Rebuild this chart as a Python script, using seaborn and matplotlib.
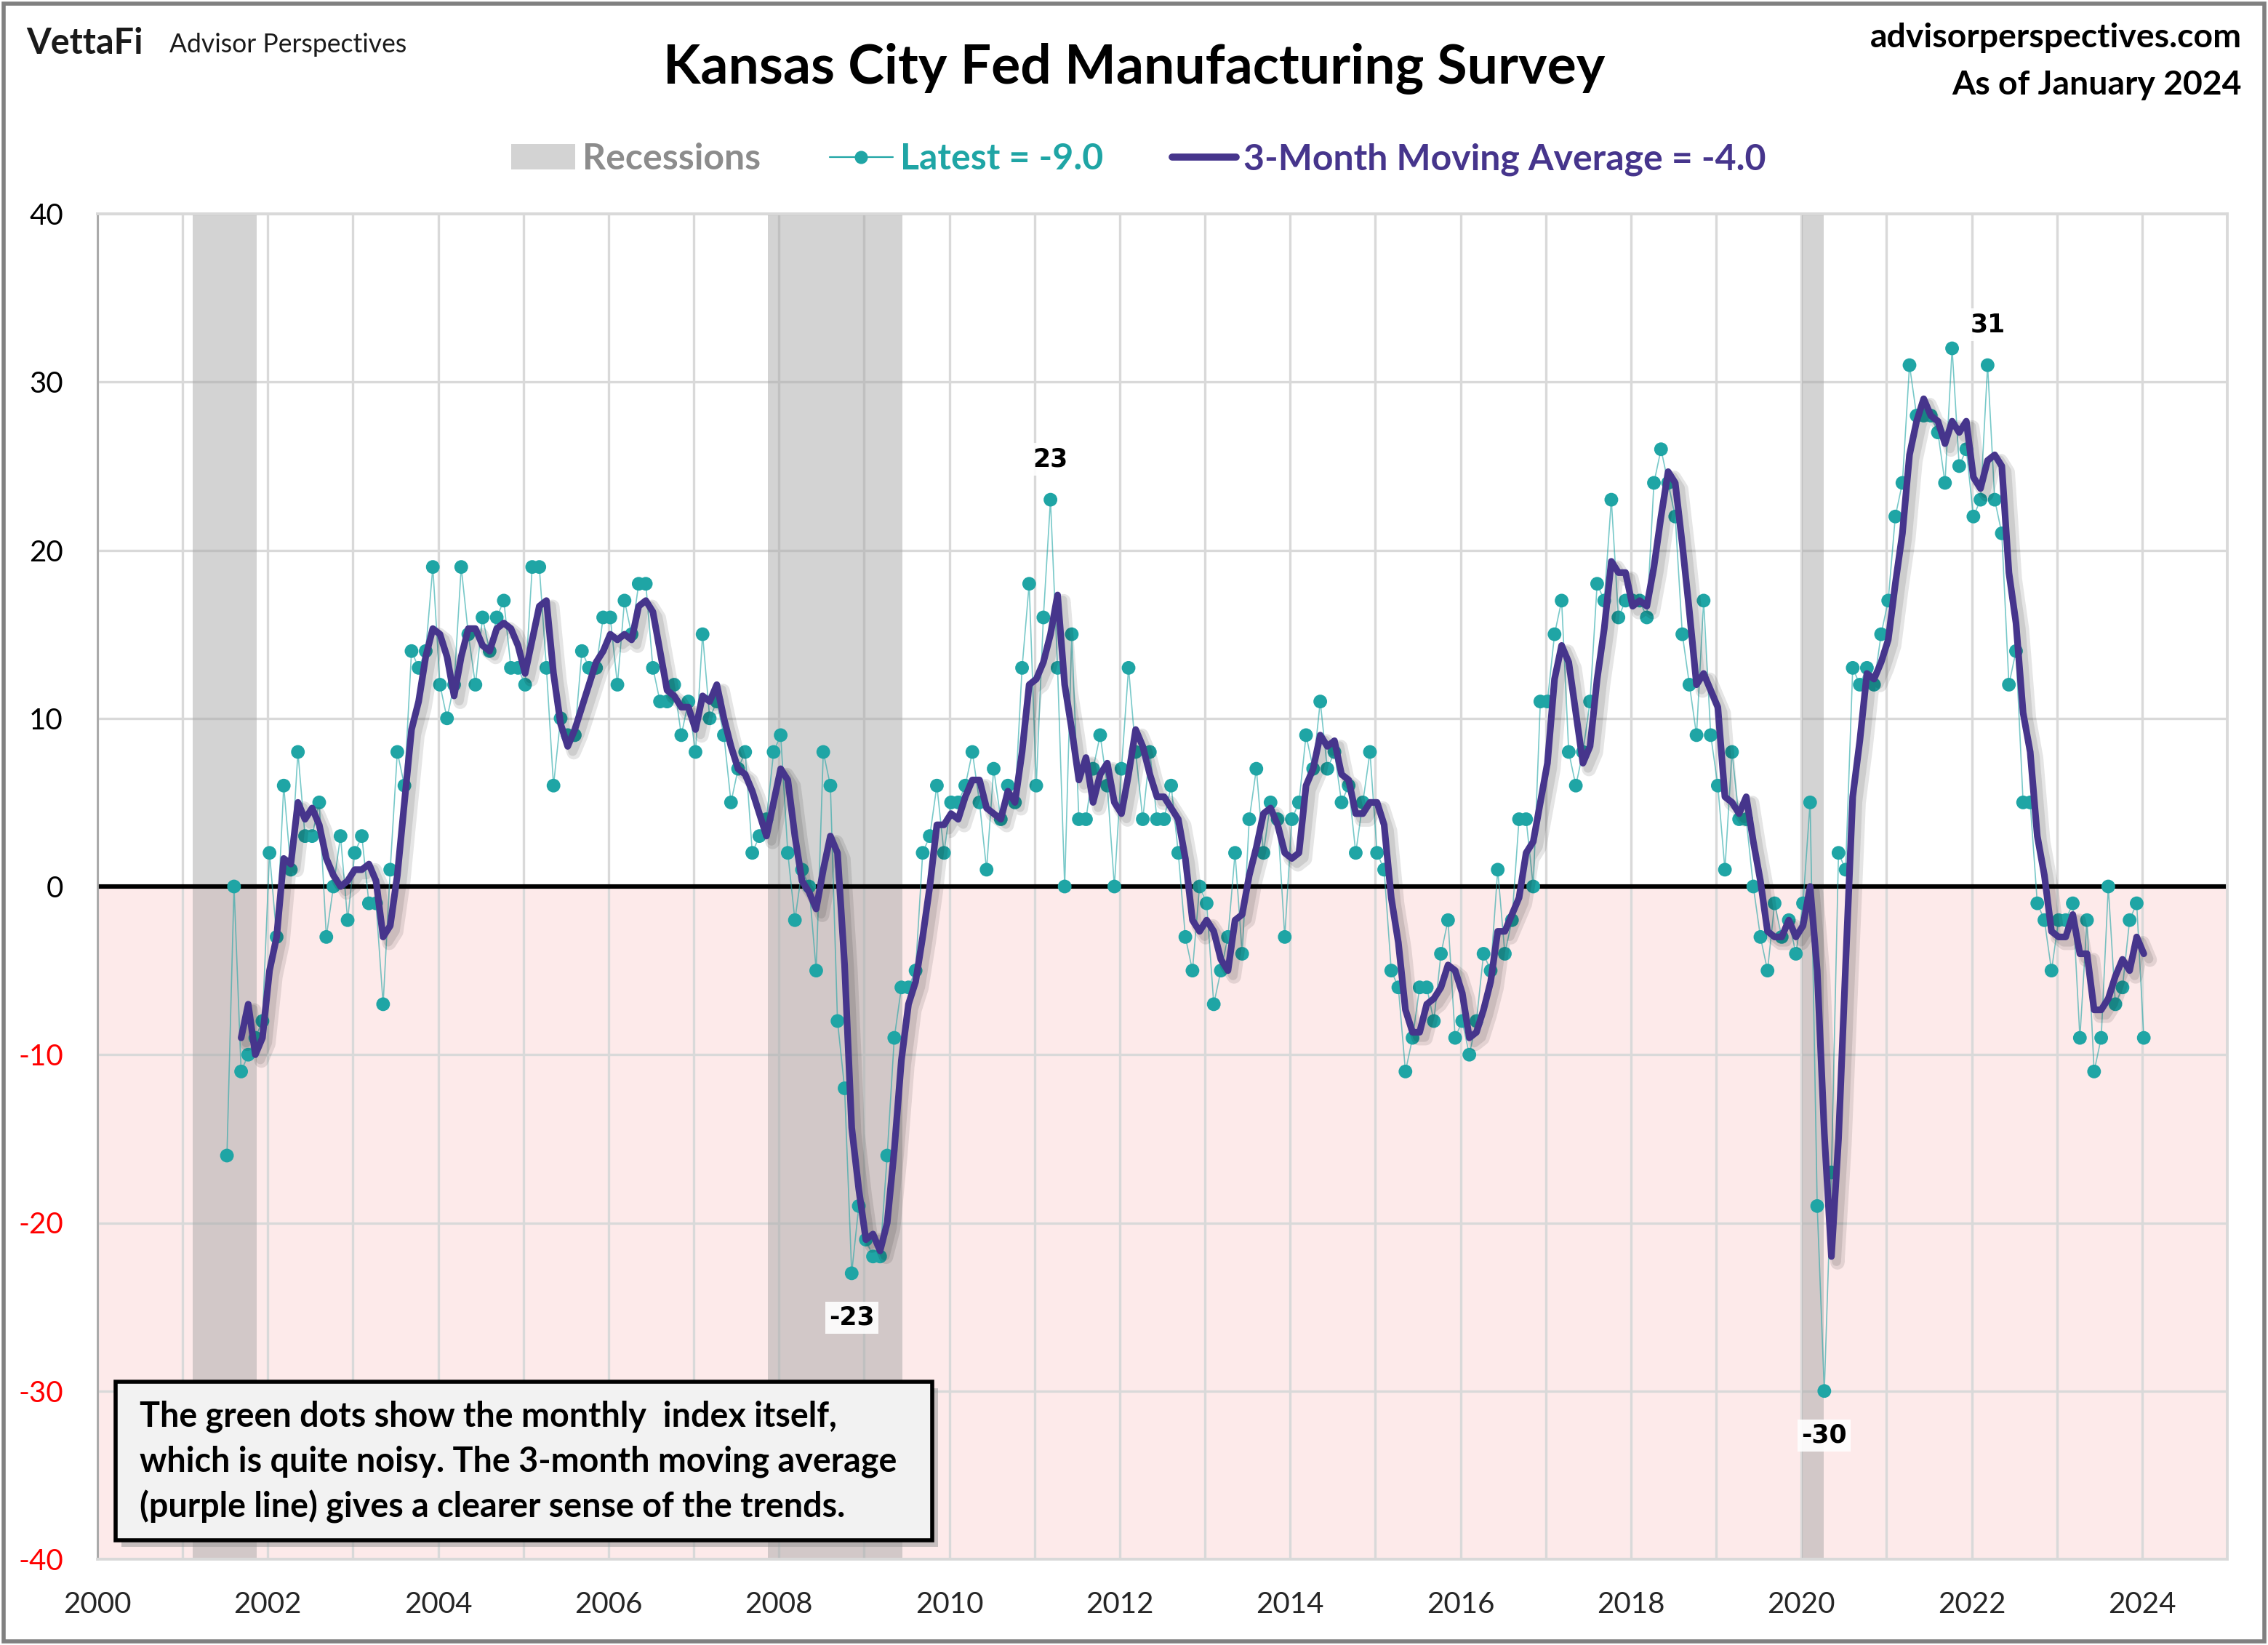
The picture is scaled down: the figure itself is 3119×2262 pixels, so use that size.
import numpy as np
import pandas as pd
import matplotlib
matplotlib.use("Agg")
import matplotlib.pyplot as plt
import matplotlib.patheffects as pe
from matplotlib.patches import Patch, Rectangle
from matplotlib.lines import Line2D
import seaborn as sns

# ---------------- data ----------------
start_year, start_month = 2001, 7
latest = [
    -16, 0, -11, -10, -9, -8,                              # 2001 Jul-Dec
    2, -3, 6, 1, 8, 3, 3, 5, -3, 0, 3, -2,                 # 2002
    2, 3, -1, -1, -7, 1, 8, 6, 14, 13, 14, 19,             # 2003
    12, 10, 12, 19, 15, 12, 16, 14, 16, 17, 13, 13,        # 2004
    12, 19, 19, 13, 6, 10, 9, 9, 14, 13, 13, 16,           # 2005
    16, 12, 17, 15, 18, 18, 13, 11, 11, 12, 9, 11,         # 2006
    8, 15, 10, 11, 9, 5, 7, 8, 2, 3, 4, 8,                 # 2007
    9, 2, -2, 1, 0, -5, 8, 6, -8, -12, -23, -19,           # 2008
    -21, -22, -22, -16, -9, -6, -6, -5, 2, 3, 6, 2,        # 2009
    5, 5, 6, 8, 5, 1, 7, 4, 6, 5, 13, 18,                  # 2010
    6, 16, 23, 13, 0, 15, 4, 4, 7, 9, 6, 0,                # 2011
    7, 13, 8, 4, 8, 4, 4, 6, 2, -3, -5, 0,                 # 2012
    -1, -7, -5, -3, 2, -4, 4, 7, 2, 5, 4, -3,              # 2013
    4, 5, 9, 7, 11, 7, 8, 5, 6, 2, 5, 8,                   # 2014
    2, 1, -5, -6, -11, -9, -6, -6, -8, -4, -2, -9,         # 2015
    -8, -10, -8, -4, -5, 1, -4, -2, 4, 4, 0, 11,           # 2016
    11, 15, 17, 8, 6, 8, 11, 18, 17, 23, 16, 17,           # 2017
    17, 17, 16, 24, 26, 24, 22, 15, 12, 9, 17, 9,          # 2018
    6, 1, 8, 4, 4, 0, -3, -5, -1, -3, -2, -4,              # 2019
    -1, 5, -19, -30, -17, 2, 1, 13, 12, 13, 12, 15,        # 2020
    17, 22, 24, 31, 28, 28, 28, 27, 24, 32, 25, 26,        # 2021
    22, 23, 31, 23, 21, 12, 14, 5, 5, -1, -2, -5,          # 2022
    -2, -2, -1, -9, -2, -11, -9, 0, -7, -6, -2, -1,        # 2023
    -9,                                                    # 2024 Jan
]
rec_start = [2001.12, 2007.87, 2020.01]
rec_end = [2001.87, 2009.45, 2020.26]
y_ticks = [40, 30, 20, 10, 0, -10, -20, -30, -40]
x_ticks = list(range(2000, 2025, 2))
peak_months = ["2011-03", "2008-11", "2020-04", "2022-03"]
peak_text = ["23", "-23", "-30", "31"]

title = "Kansas City Fed Manufacturing Survey"
note_lines = ["The green dots show the monthly  index itself,",
              "which is quite noisy. The 3-month moving average",
              "(purple line) gives a clearer sense of the trends."]

# ---------------- frame ----------------
dates = pd.date_range(f"{start_year}-{start_month:02d}-01", periods=len(latest), freq="MS")
df = pd.DataFrame({"date": dates, "latest": latest})
df["x"] = df["date"].dt.year + (df["date"].dt.month - 1) / 12 + 0.02
df["ma3"] = df["latest"].rolling(3).mean()

TEAL = "#1fa5a5"
PURPLE = "#46358c"

sns.set_theme(style="white")
plt.rcParams["font.family"] = ["Lato", "DejaVu Sans"]

fig = plt.figure(figsize=(15.595, 11.31), dpi=200)
ax = fig.add_axes([134 / 3119, 1 - 2144 / 2262, 2929 / 3119, 1850 / 2262])

ax.axhspan(-40, 0, color="#fdeaea", lw=0, zorder=0.1)
for s, e in zip(rec_start, rec_end):
    ax.axvspan(s, e, color="#a8a8a8", alpha=0.5, lw=0, zorder=0.6)
ax.set_axisbelow(True)

ax.set_xlim(2000, 2025)
ax.set_ylim(-40, 40)
ax.set_xticks(x_ticks, labels=[str(v) for v in x_ticks])
ax.set_xticks([y for y in range(2001, 2026, 2)], minor=True)
ax.set_yticks(y_ticks, labels=[str(v) for v in y_ticks])
ax.grid(True, which="both", color="#d9d9d9", lw=1.2)
ax.tick_params(axis="both", which="both", length=0)
ax.tick_params(axis="y", pad=17, labelsize=14.5)
ax.tick_params(axis="x", pad=16, labelsize=14.5, labelcolor="#262626")
for lab, v in zip(ax.get_yticklabels(), y_ticks):
    lab.set_color("#ff0000" if v < 0 else "black")
for name, sp in ax.spines.items():
    sp.set_color("#d9d9d9")
    sp.set_linewidth(1.4)
ax.spines["left"].set_color("#a6a6a6")
ax.spines["left"].set_linewidth(1.0)

ax.axhline(0, color="black", lw=2.2, zorder=2)

sns.lineplot(data=df, x="x", y="latest", color=TEAL, lw=0.6, alpha=0.6,
             ax=ax, zorder=3, legend=False)
sns.scatterplot(data=df, x="x", y="latest", color=TEAL, s=46, edgecolor="none",
                ax=ax, zorder=4, legend=False)
sns.lineplot(data=df.dropna(), x="x", y="ma3", color=PURPLE, lw=3.3, ax=ax, zorder=5,
             legend=False,
             path_effects=[pe.SimpleLineShadow(offset=(3, -3), shadow_color="black",
                                               alpha=0.10, linewidth=7),
                           pe.SimpleLineShadow(offset=(2.5, -2.5), shadow_color="black",
                                               alpha=0.10, linewidth=4.5),
                           pe.Normal()])
ax.set_xlabel("")
ax.set_ylabel("")

# peak labels
for m, t in zip(peak_months, peak_text):
    row = df[df["date"] == pd.Timestamp(m + "-01")].iloc[0]
    off = 20 if row["latest"] > 0 else -22
    ax.annotate(t, (row["x"], row["latest"]), xytext=(0, off), textcoords="offset points",
                ha="center", va="center", fontsize=12.5, fontweight="bold",
                family=["DejaVu Sans"], color="black", zorder=7,
                bbox=dict(boxstyle="square,pad=0.15", fc="white", ec="none", alpha=0.9))

# note box with shadow
bx0, by0, bx1, by1 = 25 / 2929, 26 / 1850, 1148 / 2929, 244 / 1850
sh = Rectangle((bx0 + 8 / 2929, by0 - 9 / 1850), bx1 - bx0, by1 - by0, transform=ax.transAxes,
               fc="#9a9a9a", ec="none", alpha=0.55, zorder=6)
ax.add_patch(sh)
box = Rectangle((bx0, by0), bx1 - bx0, by1 - by0, transform=ax.transAxes,
                fc="#f2f2f2", ec="black", lw=2.0, zorder=6.5)
ax.add_patch(box)
for i, line in enumerate(note_lines):
    ax.text(58 / 2929, (196 - 62 * i) / 1850, line, transform=ax.transAxes,
            ha="left", va="center", fontsize=16.8, fontweight="bold", color="black",
            zorder=7)

# legend
handles = [Patch(facecolor="#d3d3d3", edgecolor="none"),
           Line2D([0], [0], color=TEAL, lw=0.8, marker="o", markersize=6.5,
                  markeredgecolor="none", alpha=1),
           Line2D([0], [0], color=PURPLE, lw=3.5)]
labels = ["Recessions", "Latest = -9.0", "3-Month Moving Average = -4.0"]
leg = fig.legend(handles, labels, loc="center", bbox_to_anchor=(0.502, 1 - 219 / 2262),
                 ncol=3, frameon=False, prop={"size": 18, "weight": "bold"},
                 handlelength=1.75, handletextpad=0.2, columnspacing=1.9)
for txt, c in zip(leg.get_texts(), ["#8c8c8c", TEAL, PURPLE]):
    txt.set_color(c)

# header texts
fig.text(0.5, 1 - 94 / 2262, title, ha="center", va="center", fontsize=27,
         fontweight="bold", color="black")
fig.text(36 / 3119, 1 - 60 / 2262, "VettaFi", ha="left", va="center", fontsize=17.5,
         fontweight="bold", color="#1a1a1a")
fig.text(233 / 3119, 1 - 62 / 2262, "Advisor Perspectives", ha="left", va="center",
         fontsize=12.8, color="#1a1a1a")
fig.text(3083 / 3119, 1 - 52 / 2262, "advisorperspectives.com", ha="right", va="center",
         fontsize=16.7, fontweight="bold", color="black")
fig.text(3083 / 3119, 1 - 117 / 2262, "As of January 2024", ha="right", va="center",
         fontsize=16.7, fontweight="bold", color="black")

# outer border
fig.add_artist(Rectangle((0.0015, 0.002), 0.997, 0.996, transform=fig.transFigure,
                         fill=False, ec="#808080", lw=2.0))

fig.savefig("out.png", dpi=200)
